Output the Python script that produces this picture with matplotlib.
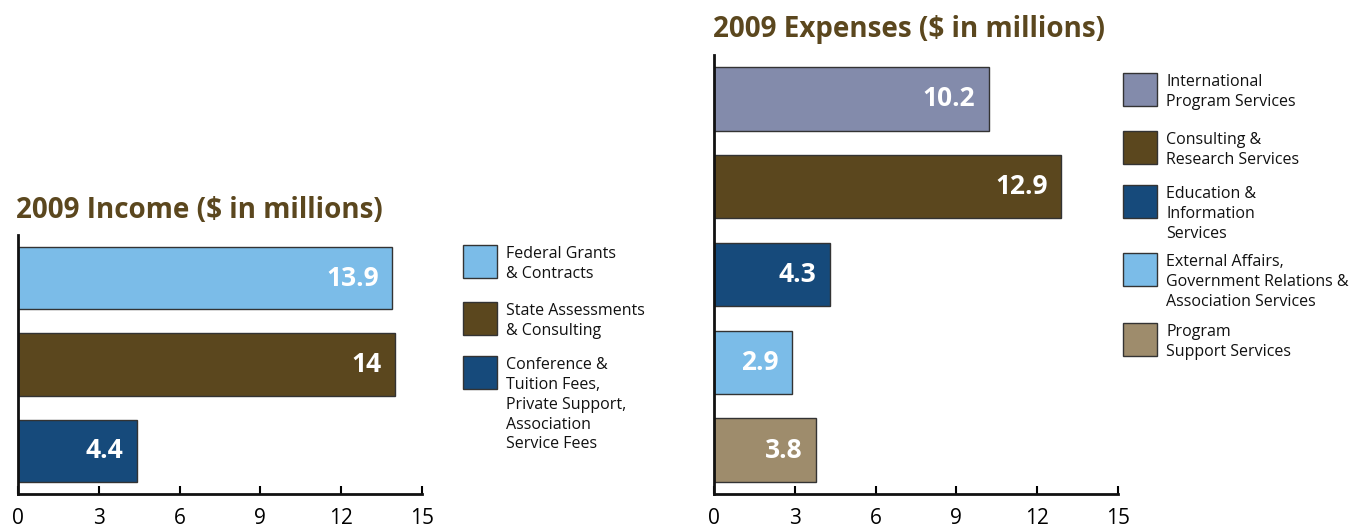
import matplotlib
matplotlib.use("Agg")
import matplotlib.pyplot as plt
from matplotlib.patches import Rectangle

plt.rcParams["font.family"] = ["Open Sans", "DejaVu Sans"]

# data
income_labels = ["Federal Grants\n& Contracts",
                 "State Assessments\n& Consulting",
                 "Conference &\nTuition Fees,\nPrivate Support,\nAssociation\nService Fees"]
income_values = [13.9, 14, 4.4]
income_colors = ["#7bbce8", "#5b471e", "#164a7b"]

expense_labels = ["International\nProgram Services",
                  "Consulting &\nResearch Services",
                  "Education &\nInformation\nServices",
                  "External Affairs,\nGovernment Relations &\nAssociation Services",
                  "Program\nSupport Services"]
expense_values = [10.2, 12.9, 4.3, 2.9, 3.8]
expense_colors = ["#838bab", "#5b471e", "#164a7b", "#7bbce8", "#9e8c6c"]

ticks = [0, 3, 6, 9, 12, 15]
title_color = "#5b471e"

W, H = 1364, 528
fig = plt.figure(figsize=(W / 100, H / 100), dpi=100)


def px_axes(x0, y0, x1, y1):
    return fig.add_axes([x0 / W, 1 - y1 / H, (x1 - x0) / W, (y1 - y0) / H])


def draw_bars(ax, values, colors):
    pos = list(range(len(values)))
    ax.barh(pos, values, height=0.72, color=colors, edgecolor="#333333", linewidth=1)
    for p, v in zip(pos, values):
        ax.text(v - 0.5, p, f"{v:g}", ha="right", va="center", color="white",
                fontsize=19, fontweight="bold")
    ax.set_xlim(0, 15)
    ax.set_ylim(len(values) - 0.5, -0.5)
    ax.set_xticks(ticks)
    ax.set_xticklabels([str(t) for t in ticks])
    ax.set_yticks([])
    for s in ["top", "right"]:
        ax.spines[s].set_visible(False)
    for s in ["left", "bottom"]:
        ax.spines[s].set_linewidth(2)
        ax.spines[s].set_color("#111111")
    ax.tick_params(axis="x", direction="in", length=6, width=1.5, labelsize=15, pad=10)


def draw_legend(x, tops, labels, colors):
    for t, lab, c in zip(tops, labels, colors):
        fig.add_artist(Rectangle((x / W, 1 - (t + 33) / H), 34 / W, 33 / H,
                                 transform=fig.transFigure, facecolor=c,
                                 edgecolor="#333333", linewidth=1))
        fig.text((x + 43) / W, 1 - (t + 1) / H, lab, ha="left", va="top",
                 fontsize=11.5, linespacing=1.32, color="#111111")


ax1 = px_axes(18, 235, 422, 494)
draw_bars(ax1, income_values, income_colors)
fig.text(16 / W, 1 - 218 / H, "2009 Income ($ in millions)", fontsize=20,
         fontweight="bold", color=title_color, va="baseline")
draw_legend(463, [245, 302, 356], income_labels, income_colors)

ax2 = px_axes(714, 55, 1118, 494)
draw_bars(ax2, expense_values, expense_colors)
fig.text(713 / W, 1 - 37 / H, "2009 Expenses ($ in millions)", fontsize=20,
         fontweight="bold", color=title_color, va="baseline")
draw_legend(1123, [73, 131, 185, 253, 323], expense_labels, expense_colors)

fig.savefig("out.png", dpi=100)
